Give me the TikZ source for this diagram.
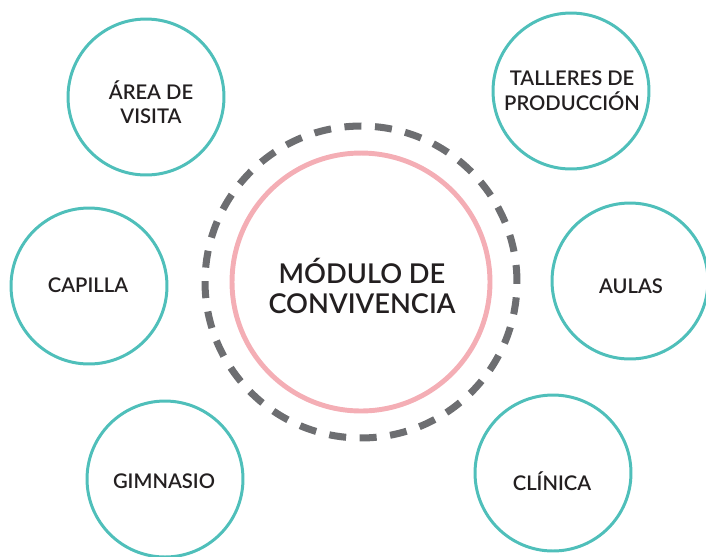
\documentclass[tikz,border=0pt]{standalone}
\usepackage{fontspec}
\setmainfont{Lato}[BoldFont={Lato Semibold}]
\definecolor{teal}{HTML}{4FBFBA}
\definecolor{rosa}{HTML}{F4AEB5}
\definecolor{gris}{HTML}{6D6E71}
\definecolor{tinta}{HTML}{231F20}
\begin{document}
\begin{tikzpicture}[x=0.02cm,y=-0.02cm,
  area/.style={circle,draw=teal,line width=1.7pt,minimum size=3.12cm},
  hub/.style={circle,draw=rosa,line width=2.8pt,minimum size=5.16cm},
  ring/.style={circle,draw=gris,line width=4pt,minimum size=6.24cm,
    dash pattern=on 9.7pt off 7.7pt},
  etiqueta/.style={text=tinta,align=center,font=\bfseries\fontsize{11.5}{14}\selectfont},
  titulo/.style={text=tinta,align=center,font=\bfseries\fontsize{15.5}{17.5}\selectfont}]
  \useasboundingbox (0,0) rectangle (706,556);
  % centro
  \node[ring] (anillo) at (361,282) {};
  \node[hub] (modulo) at (361,282) {};
  \node[titulo] (texto) at (362,286) {MÓDULO DE\\CONVIVENCIA};
  % espacios
  \node[area] (visita) at (146,97) {};
  \node[area] (talleres) at (571,91) {};
  \node[area] (capilla) at (89,286) {};
  \node[area] (aulas) at (630,281) {};
  \node[area] (gimnasio) at (165,479) {};
  \node[area] (clinica) at (553,473) {};
  \node[etiqueta] (tvisita) at (151,102) {ÁREA DE\\VISITA};
  \node[etiqueta] (ttalleres) at (572,91) {TALLERES DE\\PRODUCCIÓN};
  \node[etiqueta] (tcapilla) at (88,285) {CAPILLA};
  \node[etiqueta] (taulas) at (631,286) {AULAS};
  \node[etiqueta] (tgimnasio) at (164,481) {GIMNASIO};
  \node[etiqueta] (tclinica) at (552,481) {CLÍNICA};
\end{tikzpicture}
\end{document}
